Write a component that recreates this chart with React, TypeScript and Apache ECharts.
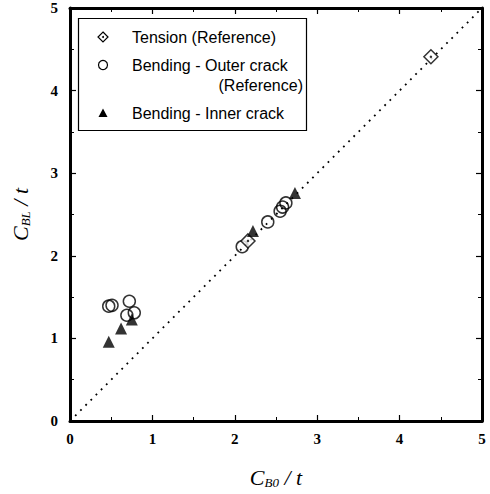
import React, { useEffect, useRef } from "react";
import * as echarts from "echarts";

const tension: number[][] = [
  [2.16, 2.18],
  [4.38, 4.41],
];
const outerCrack: number[][] = [
  [0.47, 1.39],
  [0.51, 1.4],
  [0.72, 1.45],
  [0.69, 1.28],
  [0.78, 1.31],
  [2.09, 2.11],
  [2.4, 2.41],
  [2.55, 2.54],
  [2.58, 2.59],
  [2.62, 2.64],
];
const innerCrack: number[][] = [
  [0.47, 0.96],
  [0.62, 1.12],
  [0.75, 1.23],
  [2.22, 2.3],
  [2.73, 2.76],
];
const diagonal: number[][] = [
  [0, 0],
  [5, 5],
];
const tickLabels = ["0", "1", "2", "3", "4", "5"];

const legendNames = ["Tension (Reference)", "Bending - Outer crack", "(Reference)", "Bending - Inner crack"];

export default function App() {
  const ref = useRef<HTMLDivElement>(null);
  useEffect(() => {
    if (!ref.current) return;
    const chart = echarts.init(ref.current, null, { renderer: "svg" });
    const serif = "'Liberation Serif', 'DejaVu Serif', serif";
    const sans = "'Liberation Sans', Arial, sans-serif";
    const baseAxis = {
      min: 0,
      max: 5,
      interval: 1,
      splitLine: { show: false },
      axisLine: { show: true, onZero: false, lineStyle: { color: "#000", width: 3 } },
      axisTick: { show: true, inside: true, length: 6, lineStyle: { color: "#000", width: 1.2 } },
      minorTick: { show: true, splitNumber: 2, length: 4, lineStyle: { color: "#000", width: 1 } },
    };
    const labelFmt = (v: number) => tickLabels[Math.round(v)] ?? "";
    const nameRich = {
      c: { fontFamily: serif, fontStyle: "italic", fontSize: 22, color: "#000" },
      s: { fontFamily: serif, fontStyle: "italic", fontSize: 13, color: "#000", verticalAlign: "bottom", padding: [10, 0, 0, 0] },
    };
    chart.setOption({
      animation: false,
      backgroundColor: "#fff",
      grid: { left: 70, right: 8, top: 8, bottom: 71, containLabel: false },
      xAxis: [
        {
          ...baseAxis,
          type: "value",
          position: "bottom",
          axisLabel: {
            formatter: labelFmt,
            color: "#000",
            fontFamily: serif,
            fontWeight: "bold",
            fontSize: 15,
            margin: 10,
          },
          name: "{c|C}{s|B0}{c| / t}",
          nameLocation: "middle",
          nameGap: 45,
          nameTextStyle: { color: "#000", rich: nameRich },
        },
        {
          ...baseAxis,
          type: "value",
          position: "top",
          axisLabel: { show: false },
        },
      ],
      yAxis: [
        {
          ...baseAxis,
          type: "value",
          position: "left",
          axisLabel: {
            formatter: labelFmt,
            color: "#000",
            fontFamily: serif,
            fontWeight: "bold",
            fontSize: 15,
            margin: 12,
          },
          name: "{c|C}{s|BL}{c| / t}",
          nameLocation: "middle",
          nameGap: 38,
          nameRotate: 90,
          nameTextStyle: { color: "#000", rich: nameRich },
        },
        {
          ...baseAxis,
          type: "value",
          position: "right",
          axisLabel: { show: false },
        },
      ],
      series: [
        {
          type: "line",
          data: diagonal,
          symbol: "none",
          lineStyle: { color: "#000", width: 1.8, type: [1.8, 5.5] },
          z: 1,
        },
        {
          name: legendNames[1],
          type: "scatter",
          data: outerCrack,
          symbol: "circle",
          symbolSize: 12,
          itemStyle: { color: "rgba(255,255,255,0)", borderColor: "#000", borderWidth: 1.5 },
          z: 3,
        },
        {
          name: legendNames[0],
          type: "scatter",
          data: tension,
          symbol: "diamond",
          symbolSize: 14,
          itemStyle: { color: "#fff", borderColor: "#000", borderWidth: 1.5 },
          z: 4,
        },
        {
          type: "scatter",
          data: tension,
          symbol: "circle",
          symbolSize: 2.5,
          itemStyle: { color: "#000" },
          z: 5,
        },
        {
          name: legendNames[3],
          type: "scatter",
          data: innerCrack,
          symbol: "triangle",
          symbolSize: 12,
          itemStyle: { color: "#000" },
          z: 6,
        },
      ],
      graphic: [
        {
          type: "rect",
          shape: { x: 78.5, y: 18.5, width: 228, height: 112 },
          style: { fill: "#fff", stroke: "#000", lineWidth: 1.2 },
          z: 10,
        },
        {
          type: "polygon",
          shape: { points: [[103, 32], [108, 37], [103, 42], [98, 37]] },
          style: { fill: "#fff", stroke: "#000", lineWidth: 1.2 },
          z: 11,
        },
        { type: "circle", shape: { cx: 103, cy: 37, r: 1 }, style: { fill: "#000" }, z: 12 },
        {
          type: "circle",
          shape: { cx: 103, cy: 65, r: 4.5 },
          style: { fill: "#fff", stroke: "#000", lineWidth: 1.2 },
          z: 11,
        },
        {
          type: "polygon",
          shape: { points: [[103, 108.5], [107.5, 117], [98.5, 117]] },
          style: { fill: "#000" },
          z: 11,
        },
        {
          type: "text",
          x: 132,
          y: 37,
          style: { text: legendNames[0], font: `16px ${sans}`, fill: "#000", textVerticalAlign: "middle" },
          z: 11,
        },
        {
          type: "text",
          x: 132,
          y: 65,
          style: { text: legendNames[1], font: `16px ${sans}`, fill: "#000", textVerticalAlign: "middle" },
          z: 11,
        },
        {
          type: "text",
          x: 303,
          y: 85,
          style: { text: legendNames[2], font: `16px ${sans}`, fill: "#000", textAlign: "right", textVerticalAlign: "middle" },
          z: 11,
        },
        {
          type: "text",
          x: 132,
          y: 113,
          style: { text: legendNames[3], font: `16px ${sans}`, fill: "#000", textVerticalAlign: "middle" },
          z: 11,
        },
      ],
    });
    return () => chart.dispose();
  }, []);
  return <div ref={ref} style={{ width: 490, height: 494, position: "absolute", left: 0, top: 0 }} />;
}
